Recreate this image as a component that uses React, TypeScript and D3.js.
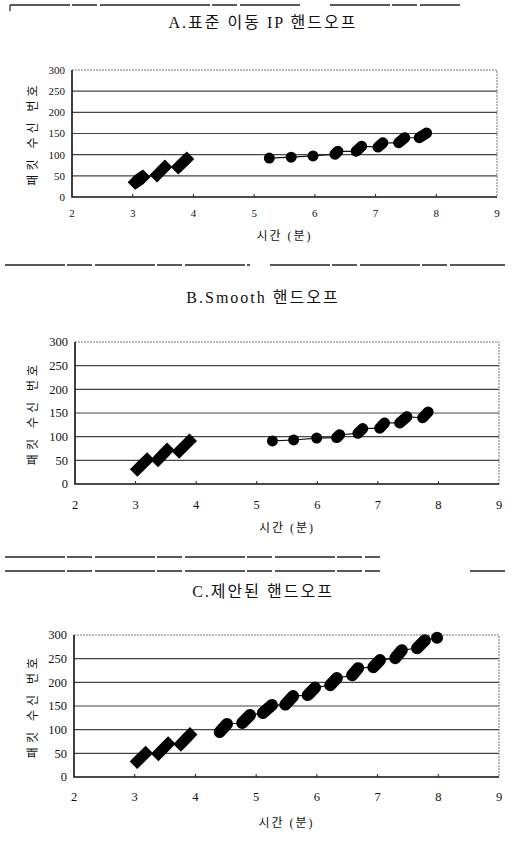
import React, { useEffect, useRef } from 'react';
import * as d3 from 'd3';

// burst = [startTime, startSeq, endTime, endSeq]  (minutes, packet number)
type Burst = [number, number, number, number];

const xTicks = [2, 3, 4, 5, 6, 7, 8, 9];
const yTicks = [0, 50, 100, 150, 200, 250, 300];

const titles = ['A.표준 이동 IP 핸드오프', 'B.Smooth 핸드오프', 'C.제안된 핸드오프'];
const xTitle = '시간 (분)';
const yTitle = '패킷 수신 번호';

// before handoff (diamond markers)
const aDiamonds: Burst[] = [[3.04, 35, 3.17, 47], [3.40, 52, 3.53, 71], [3.75, 71, 3.89, 90]];
const bDiamonds: Burst[] = [[3.03, 31, 3.19, 51], [3.37, 51, 3.52, 72], [3.72, 69, 3.89, 91]];
const cDiamonds: Burst[] = [[3.04, 33, 3.18, 50], [3.39, 49, 3.55, 70], [3.76, 69, 3.91, 90]];

// after handoff (circle markers)
const aCircles: Burst[] = [
  [5.25, 92, 5.25, 92], [5.61, 94, 5.61, 94], [5.97, 97, 5.97, 97], [6.33, 101, 6.38, 108],
  [6.68, 108, 6.77, 120], [7.04, 118, 7.12, 128], [7.38, 128, 7.48, 140], [7.72, 140, 7.84, 151],
];
const bCircles: Burst[] = [
  [5.26, 91, 5.26, 91], [5.61, 93, 5.61, 93], [5.99, 97, 5.99, 97], [6.32, 98, 6.37, 104],
  [6.67, 107, 6.75, 117], [7.03, 118, 7.11, 129], [7.36, 129, 7.48, 142], [7.74, 140, 7.83, 152],
];
const cCircles: Burst[] = [
  [4.40, 95, 4.52, 112], [4.77, 114, 4.90, 131], [5.11, 135, 5.26, 152], [5.48, 153, 5.61, 171],
  [5.85, 173, 5.97, 189], [6.22, 194, 6.33, 209], [6.58, 215, 6.68, 230], [6.93, 232, 7.04, 247],
  [7.29, 251, 7.40, 268], [7.65, 272, 7.78, 289], [7.98, 294, 7.98, 294],
];

const panels = [
  { box: { l: 72, r: 497, t: 70, b: 197 }, title: 28, xLab: 217, xTit: 240, tick: 11, diamonds: aDiamonds, circles: aCircles },
  { box: { l: 75, r: 499, t: 342, b: 484 }, title: 303, xLab: 509, xTit: 532, tick: 12.5, diamonds: bDiamonds, circles: bCircles },
  { box: { l: 74, r: 499, t: 635, b: 777 }, title: 597, xLab: 801, xTit: 827, tick: 12.5, diamonds: cDiamonds, circles: cCircles },
];

const serif = '"Liberation Serif", "DejaVu Serif", "Noto Sans CJK KR", serif';

function drawPanel(svg: any, p: any, i: number) {
  const { l, r, t, b } = p.box;
  const x = d3.scaleLinear().domain([2, 9]).range([l, r]);
  const y = d3.scaleLinear().domain([0, 300]).range([b, t]);
  const g = svg.append('g');

  g.append('text')
    .attr('x', 263).attr('y', p.title)
    .attr('text-anchor', 'middle')
    .style('font-family', serif).style('font-size', '16px').style('letter-spacing', '2px').style('fill', '#111')
    .text(titles[i]);

  // grid
  g.selectAll('line.grid').data(yTicks.filter(v => v > 0 && v < 300)).enter().append('line')
    .attr('x1', l).attr('x2', r).attr('y1', d => y(d)).attr('y2', d => y(d))
    .style('stroke', '#444').style('stroke-width', 1.1);

  // top / right border dotted
  g.append('path')
    .attr('d', `M${l},${y(300)}H${r}V${b}`)
    .style('fill', 'none').style('stroke', '#777').style('stroke-width', 1).style('stroke-dasharray', '2,1');
  // left / bottom axis
  g.append('path')
    .attr('d', `M${l},${t}V${b}H${r}`)
    .style('fill', 'none').style('stroke', '#111').style('stroke-width', 1.6);

  g.selectAll('line.xt').data(xTicks.slice(1, -1)).enter().append('line')
    .attr('x1', d => x(d)).attr('x2', d => x(d)).attr('y1', b).attr('y2', b - 3)
    .style('stroke', '#222').style('stroke-width', 1);

  g.selectAll('text.yl').data(yTicks).enter().append('text')
    .attr('x', l - 7).attr('y', d => y(d)).attr('dy', '0.35em')
    .attr('text-anchor', 'end')
    .style('font-family', serif).style('font-size', p.tick + 'px').style('fill', '#111')
    .text(d => d);

  g.selectAll('text.xl').data(xTicks).enter().append('text')
    .attr('x', d => x(d)).attr('y', p.xLab)
    .attr('text-anchor', 'middle')
    .style('font-family', serif).style('font-size', p.tick + 'px').style('fill', '#111')
    .text(d => d);

  g.append('text')
    .attr('x', (l + r) / 2).attr('y', p.xTit)
    .attr('text-anchor', 'middle')
    .style('font-family', serif).style('font-size', '12px').style('letter-spacing', '2px').style('fill', '#111')
    .text(xTitle);

  g.append('text')
    .attr('transform', `translate(37,${(t + b) / 2}) rotate(-90)`)
    .attr('text-anchor', 'middle')
    .style('font-family', serif).style('font-size', '12px').style('letter-spacing', '4px').style('fill', '#111')
    .text(yTitle);

  // thin series lines
  const line = d3.line<number[]>().x(d => x(d[0])).y(d => y(d[1]));
  [p.diamonds, p.circles].forEach((bursts: Burst[]) => {
    const pts: number[][] = [];
    bursts.forEach(bu => { pts.push([bu[0], bu[1]]); pts.push([bu[2], bu[3]]); });
    g.append('path').attr('d', line(pts))
      .style('fill', 'none').style('stroke', '#111').style('stroke-width', 1.2);
  });

  // diamond bursts: hull of the diamonds at both ends
  const h = 7.5;
  p.diamonds.forEach((bu: Burst) => {
    const corners: [number, number][] = [];
    [[bu[0], bu[1]], [bu[2], bu[3]]].forEach(([tx, sy]) => {
      const cx = x(tx), cy = y(sy);
      corners.push([cx - h, cy], [cx + h, cy], [cx, cy - h], [cx, cy + h]);
    });
    const hull = d3.polygonHull(corners) as [number, number][];
    g.append('path').attr('d', 'M' + hull.join('L') + 'Z').style('fill', '#000');
  });

  // circle bursts
  p.circles.forEach((bu: Burst) => {
    g.append('line')
      .attr('x1', x(bu[0])).attr('y1', y(bu[1])).attr('x2', x(bu[2])).attr('y2', y(bu[3]))
      .style('stroke', '#000').style('stroke-width', i === 2 ? 12 : 11).style('stroke-linecap', 'round');
  });
}

export default function App() {
  const ref = useRef<SVGSVGElement>(null);

  useEffect(() => {
    const svg = d3.select(ref.current);
    svg.selectAll('*').remove();
    svg.append('rect').attr('width', 514).attr('height', 848).style('fill', '#fff');

    // scanned page separator lines
    const rules = [
      [10, 5, 150], [150, 5, 300], [330, 5, 460],
      [5, 265, 250], [270, 265, 505],
      [5, 557, 380], [5, 571, 380], [470, 571, 505],
    ];
    rules.forEach(([x1, yy, x2]) => {
      svg.append('line').attr('x1', x1).attr('x2', x2).attr('y1', yy).attr('y2', yy)
        .style('stroke', '#222').style('stroke-width', 1.3).style('stroke-dasharray', '60,2,25,3');
    });
    svg.append('line').attr('x1', 10).attr('x2', 10).attr('y1', 5).attr('y2', 11)
      .style('stroke', '#222').style('stroke-width', 1.2);

    panels.forEach((p, i) => drawPanel(svg, p, i));
  }, []);

  return (
    <div style={{ position: 'absolute', left: 0, top: 0 }}>
      <svg ref={ref} width={514} height={848} />
    </div>
  );
}
